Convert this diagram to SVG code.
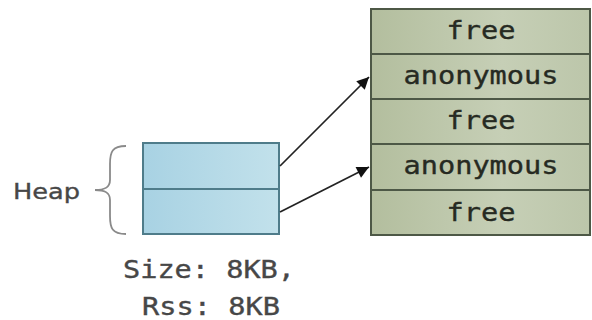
<svg xmlns="http://www.w3.org/2000/svg" width="592" height="320" viewBox="0 0 592 320">
  <style>
    .mono { font-family: "DejaVu Sans Mono", "Liberation Mono", monospace; font-size: 24px; }
    .cell { fill: url(#gCell); stroke: #4d5846; stroke-width: 2; }
    .cellText { fill: #262a22; stroke: #262a22; stroke-width: 0.35; text-anchor: middle; }
    .heapCell { fill: url(#gHeap); stroke: #4f7c8a; stroke-width: 2; }
    .label { fill: #474747; stroke: #474747; stroke-width: 0.35; }
    .link { stroke: #222; stroke-width: 1.7; fill: none; marker-end: url(#arrow); }
  </style>
  <defs>
    <linearGradient id="gCell" x1="0" y1="0" x2="1" y2="0">
      <stop offset="0" stop-color="#b3be9e"/>
      <stop offset="0.6" stop-color="#c6cfb6"/>
      <stop offset="1" stop-color="#bcc6aa"/>
    </linearGradient>
    <linearGradient id="gHeap" x1="0" y1="0" x2="1" y2="0">
      <stop offset="0" stop-color="#a8d2e3"/>
      <stop offset="1" stop-color="#c2e1eb"/>
    </linearGradient>
    <marker id="arrow" viewBox="0 0 10 10" refX="10" refY="5" markerWidth="15" markerHeight="12" markerUnits="userSpaceOnUse" orient="auto">
      <path d="M0,0 L10,5 L0,10 z" fill="#111"/>
    </marker>
  </defs>

  <rect width="592" height="320" fill="#ffffff"/>

  <!-- memory map column -->
  <g id="region-free-1">
    <rect class="cell" x="371" y="9" width="219" height="45"/>
    <text class="mono cellText" x="481" y="39" textLength="69" lengthAdjust="spacingAndGlyphs">free</text>
  </g>
  <g id="region-anon-1">
    <rect class="cell" x="371" y="54" width="219" height="45"/>
    <text class="mono cellText" x="481" y="84" textLength="155" lengthAdjust="spacingAndGlyphs">anonymous</text>
  </g>
  <g id="region-free-2">
    <rect class="cell" x="371" y="99" width="219" height="45"/>
    <text class="mono cellText" x="481" y="129" textLength="69" lengthAdjust="spacingAndGlyphs">free</text>
  </g>
  <g id="region-anon-2">
    <rect class="cell" x="371" y="144" width="219" height="46"/>
    <text class="mono cellText" x="481" y="174" textLength="155" lengthAdjust="spacingAndGlyphs">anonymous</text>
  </g>
  <g id="region-free-3">
    <rect class="cell" x="371" y="190" width="219" height="45"/>
    <text class="mono cellText" x="481" y="221" textLength="69" lengthAdjust="spacingAndGlyphs">free</text>
  </g>

  <!-- heap blocks -->
  <g id="heap">
    <rect class="heapCell" x="143" y="143" width="136" height="46"/>
    <rect class="heapCell" x="143" y="189" width="136" height="45"/>
  </g>

  <g id="heap-label">
    <text class="label" x="13" y="199" font-family="DejaVu Sans, Verdana, sans-serif" font-size="22" textLength="67" lengthAdjust="spacingAndGlyphs">Heap</text>
    <path d="M126,146 C112,146 110,152 110,164 L110,180 C110,188 104,190 95,190 C104,190 110,192 110,200 L110,216 C110,228 112,234 126,234" fill="none" stroke="#8a8a8a" stroke-width="1.8"/>
  </g>

  <g id="heap-size">
    <text class="mono label" x="123" y="278" textLength="172" lengthAdjust="spacingAndGlyphs">Size: 8KB,</text>
    <text class="mono label" x="142" y="315" textLength="138" lengthAdjust="spacingAndGlyphs">Rss: 8KB</text>
  </g>

  <!-- connectors -->
  <g id="connectors">
    <line class="link" x1="280" y1="166" x2="369" y2="77"/>
    <line class="link" x1="280" y1="212" x2="369" y2="167"/>
  </g>
</svg>
